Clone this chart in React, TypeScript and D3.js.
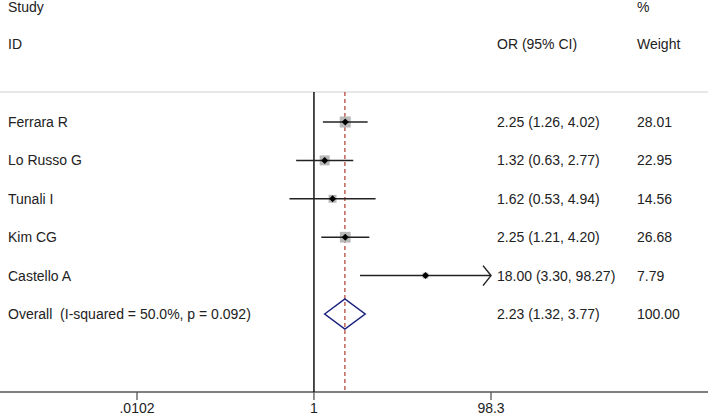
import { useEffect, useRef } from "react";
import * as d3 from "d3";

// study rows
const studies = ["Ferrara R", "Lo Russo G", "Tunali I", "Kim CG", "Castello A"];
const orValues = [2.25, 1.32, 1.62, 2.25, 18.0];
const ciLow = [1.26, 0.63, 0.53, 1.21, 3.3];
const ciHigh = [4.02, 2.77, 4.94, 4.2, 98.27];
const weights = [28.01, 22.95, 14.56, 26.68, 7.79];

// pooled estimate
const overallLabel = "Overall  (I-squared = 50.0%, p = 0.092)";
const overallOR = [2.23, 1.32, 3.77];
const overallWeight = 100.0;

// axis
const tickValues = [0.0102, 1, 98.3];
const tickLabels = [".0102", "1", "98.3"];

const width = 709;
const height = 417;

export default function App() {
  const svgRef = useRef<SVGSVGElement>(null);

  useEffect(() => {
    const svg = d3.select(svgRef.current);
    svg.selectAll("*").remove();

    const font = "'Liberation Sans', Arial, sans-serif";
    const x = d3.scaleLog().domain([tickValues[0], tickValues[2]]).range([137, 491]).clamp(true);
    const rows = [...studies, overallLabel];
    const y = d3.scalePoint().domain(rows).range([122, 314]);

    const top = 92;
    const axisY = 392;
    const colOR = 497;
    const colW = 637;
    const xMax = x.range()[1];

    const txt = (tx: number, ty: number, s: string, anchor = "start") =>
      svg
        .append("text")
        .attr("x", tx)
        .attr("y", ty)
        .attr("text-anchor", anchor)
        .attr("font-family", font)
        .attr("font-size", 14)
        .attr("fill", "#222")
        .style("white-space", "pre")
        .text(s);

    // headers
    txt(8, 12, "Study");
    txt(8, 49, "ID");
    txt(colOR, 49, "OR (95% CI)");
    txt(colW, 12, "%");
    txt(colW, 49, "Weight");

    // top rule
    svg.append("line").attr("x1", 0).attr("x2", 708).attr("y1", top).attr("y2", top)
      .attr("stroke", "#cfcfcf").attr("stroke-width", 1.2);

    // axis line + ticks
    svg.append("line").attr("x1", 0).attr("x2", 708).attr("y1", axisY).attr("y2", axisY)
      .attr("stroke", "#555").attr("stroke-width", 1.3);
    tickValues.forEach((t, i) => {
      svg.append("line").attr("x1", x(t)).attr("x2", x(t)).attr("y1", axisY).attr("y2", axisY + 8)
        .attr("stroke", "#555").attr("stroke-width", 1.3);
      txt(x(t), 413, tickLabels[i], "middle");
    });

    // null line
    svg.append("line").attr("x1", x(1)).attr("x2", x(1)).attr("y1", top).attr("y2", axisY)
      .attr("stroke", "#111").attr("stroke-width", 1.5);

    // pooled line
    svg.append("line").attr("x1", x(overallOR[0])).attr("x2", x(overallOR[0]))
      .attr("y1", top).attr("y2", axisY)
      .attr("stroke", "#b03a2e").attr("stroke-width", 1.2).attr("stroke-dasharray", "4,3");

    // studies
    studies.forEach((s, i) => {
      const cy = y(s)!;
      const x0 = x(ciLow[i]);
      const x1 = x(ciHigh[i]);
      const cx = x(orValues[i]);
      const side = 2.08 * Math.sqrt(weights[i]);
      svg.append("rect").attr("x", cx - side / 2).attr("y", cy - side / 2)
        .attr("width", side).attr("height", side).attr("fill", "#b8b8b8");
      svg.append("line").attr("x1", x0).attr("x2", x1).attr("y1", cy).attr("y2", cy)
        .attr("stroke", "#222").attr("stroke-width", 1.5);
      // CI runs to the edge of the axis range -> arrow head
      if (x1 >= xMax - 1) {
        svg.append("path")
          .attr("d", `M${xMax - 8},${cy - 10}L${xMax},${cy}L${xMax - 8},${cy + 10}`)
          .attr("fill", "none").attr("stroke", "#222").attr("stroke-width", 1.5);
      }
      svg.append("path")
        .attr("d", `M${cx},${cy - 3.5}L${cx + 3.5},${cy}L${cx},${cy + 3.5}L${cx - 3.5},${cy}Z`)
        .attr("fill", "#000");

      txt(8, cy + 5, s);
      txt(colOR, cy + 5, `${orValues[i].toFixed(2)} (${ciLow[i].toFixed(2)}, ${ciHigh[i].toFixed(2)})`);
      txt(colW, cy + 5, weights[i].toFixed(2));
    });

    // overall diamond
    const oy = y(overallLabel)!;
    const [m, l, h] = overallOR;
    svg.append("path")
      .attr("d", `M${x(l)},${oy}L${x(m)},${oy - 15}L${x(h)},${oy}L${x(m)},${oy + 15}Z`)
      .attr("fill", "none").attr("stroke", "#1a237e").attr("stroke-width", 1.5);
    txt(8, oy + 5, overallLabel);
    txt(colOR, oy + 5, `${m.toFixed(2)} (${l.toFixed(2)}, ${h.toFixed(2)})`);
    txt(colW, oy + 5, overallWeight.toFixed(2));
  }, []);

  return (
    <svg
      ref={svgRef}
      width={width}
      height={height}
      style={{ position: "absolute", left: 0, top: 0, background: "#fff" }}
    />
  );
}
